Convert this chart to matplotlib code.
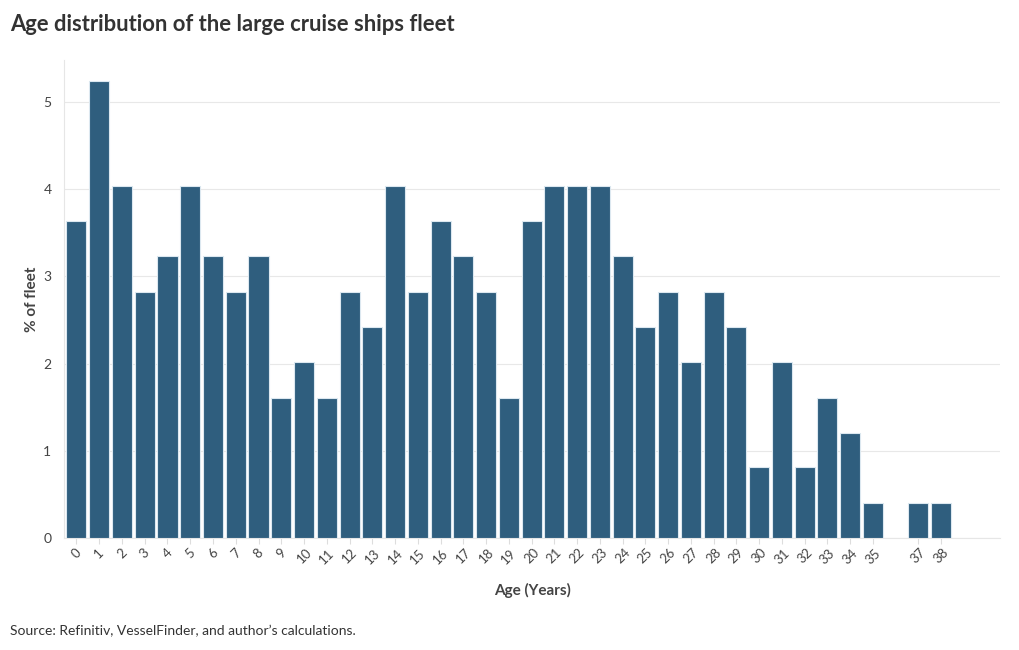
import matplotlib.pyplot as plt

plt.rcParams['font.family'] = ['Lato', 'DejaVu Sans']

# age of ship (years) and share of the fleet (%)
ages = [0, 1, 2, 3, 4, 5, 6, 7, 8, 9, 10, 11, 12, 13, 14, 15, 16, 17, 18, 19,
        20, 21, 22, 23, 24, 25, 26, 27, 28, 29, 30, 31, 32, 33, 34, 35, 37, 38]
share = [3.63, 5.24, 4.03, 2.82, 3.23, 4.03, 3.23, 2.82, 3.23, 1.61,
         2.02, 1.61, 2.82, 2.42, 4.03, 2.82, 3.63, 3.23, 2.82, 1.61,
         3.63, 4.03, 4.03, 4.03, 3.23, 2.42, 2.82, 2.02, 2.82, 2.42,
         0.81, 2.02, 0.81, 1.61, 1.21, 0.40, 0.40, 0.40]
yticks = [0, 1, 2, 3, 4, 5]

fig = plt.figure(figsize=(10.2, 6.5), dpi=100)
ax = fig.add_axes([0.0627, 0.172, 0.918, 0.736])

ax.bar(ages, share, width=0.88, color='#2f5e7e', edgecolor='#dce8f0', linewidth=0.8, zorder=3)

ax.set_xlim(-0.55, 40.6)
ax.set_ylim(0, 5.48)
ax.set_xticks(ages)
ax.set_xticklabels([str(a) for a in ages], rotation=45, ha='center', fontsize=9.5, color='#444444')
ax.set_yticks(yticks)
ax.set_yticklabels([str(t) for t in yticks], fontsize=10, color='#444444')
ax.tick_params(axis='x', length=4, color='#dddddd', pad=2)
ax.tick_params(axis='y', length=0, pad=9)
ax.grid(axis='y', color='#e8e8e8', linewidth=0.8, zorder=0)

for s in ['top', 'right']:
    ax.spines[s].set_visible(False)
ax.spines['left'].set_color('#e6e6e6')
ax.spines['bottom'].set_color('#e6e6e6')

ax.set_ylabel('% of fleet', fontsize=11, fontweight='bold', color='#444444', labelpad=3)
ax.set_xlabel('Age (Years)', fontsize=11, fontweight='bold', color='#444444', labelpad=12)

fig.text(0.0098, 0.962, 'Age distribution of the large cruise ships fleet', fontsize=15.8,
         fontweight='bold', color='#333333', va='center')
fig.text(0.0098, 0.029, 'Source: Refinitiv, VesselFinder, and author\u2019s calculations.',
         fontsize=10, color='#333333', va='center')

fig.savefig('out.png', dpi=100, facecolor='white')
